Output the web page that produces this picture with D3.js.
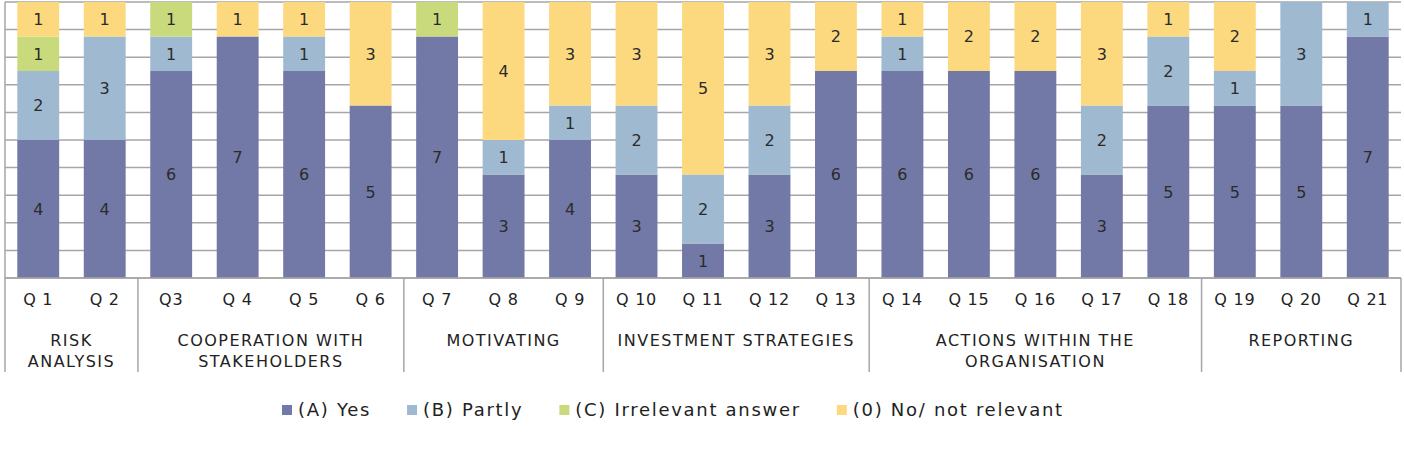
<!DOCTYPE html>
<html>
<head>
<meta charset="utf-8">
<script src="https://cdn.jsdelivr.net/npm/d3@7"></script>
<style>
	body { margin: 0; background: #fff; }
	svg { display: block; font-family: 'DejaVu Sans', sans-serif; }
	.grid line { stroke: #a6a6a6; stroke-width: 1.5; }
	.sep { stroke: #a6a6a6; stroke-width: 1.5; }
	.val { font-size: 16px; fill: #2b2b2b; text-anchor: middle; }
	.cat { font-size: 16px; fill: #222; text-anchor: middle; letter-spacing: 0.75px; }
	.grp { font-size: 16px; fill: #222; text-anchor: middle; letter-spacing: 1.5px; }
	.leg { font-size: 18px; fill: #222; letter-spacing: 1.7px; }
</style>
</head>
<body>
<script>
const categories = ['Q 1', 'Q 2', 'Q3', 'Q 4', 'Q 5', 'Q 6', 'Q 7', 'Q 8', 'Q 9', 'Q 10', 'Q 11',
	'Q 12', 'Q 13', 'Q 14', 'Q 15', 'Q 16', 'Q 17', 'Q 18', 'Q 19', 'Q 20', 'Q 21'];
const groupNames = ['RISK\nANALYSIS', 'COOPERATION WITH\nSTAKEHOLDERS', 'MOTIVATING',
	'INVESTMENT STRATEGIES', 'ACTIONS WITHIN THE\nORGANISATION', 'REPORTING'];
const groupSizes = [2, 4, 3, 4, 5, 3];

const seriesNames = ['(A) Yes', '(B) Partly', '(C) Irrelevant answer', '(0) No/ not relevant'];
const yes        = [4, 4, 6, 7, 6, 5, 7, 3, 4, 3, 1, 3, 6, 6, 6, 6, 3, 5, 5, 5, 7];
const partly     = [2, 3, 1, 0, 1, 0, 0, 1, 1, 2, 2, 2, 0, 1, 0, 0, 2, 2, 1, 3, 1];
const irrelevant = [1, 0, 1, 0, 0, 0, 1, 0, 0, 0, 0, 0, 0, 0, 0, 0, 0, 0, 0, 0, 0];
const no         = [1, 1, 0, 1, 1, 3, 0, 4, 3, 3, 5, 3, 2, 1, 2, 2, 3, 1, 2, 0, 0];
const colors = ['#7279a6', '#9fb9d0', '#c9da7c', '#fcd97f'];

const width = 1404, height = 474;
const plot = { left: 5, right: 1401, top: 2, bottom: 278 };

const rows = categories.map((c, i) => ({
	cat: c, s0: yes[i], s1: partly[i], s2: irrelevant[i], s3: no[i]
}));
const keys = ['s0', 's1', 's2', 's3'];
const stacked = d3.stack().keys(keys).offset(d3.stackOffsetExpand)(rows);

const x = d3.scaleBand()
	.domain(categories)
	.range([plot.left, plot.right])
	.paddingInner(0.37)
	.paddingOuter(0.185);
const y = d3.scaleLinear().domain([0, 1]).range([plot.bottom, plot.top]);
const color = d3.scaleOrdinal().domain(keys).range(colors);

const svg = d3.select('body').append('svg')
	.attr('width', width)
	.attr('height', height);

// gridlines every 10%
svg.append('g').attr('class', 'grid')
	.selectAll('line')
	.data(d3.range(0, 11).map(d => d / 10))
	.join('line')
	.attr('x1', plot.left).attr('x2', plot.right)
	.attr('y1', d => y(d)).attr('y2', d => y(d));

// bars
const layers = svg.append('g').selectAll('g')
	.data(stacked)
	.join('g')
	.attr('fill', d => color(d.key));

layers.selectAll('rect')
	.data(d => d)
	.join('rect')
	.attr('x', d => x(d.data.cat))
	.attr('width', x.bandwidth())
	.attr('y', d => y(d[1]))
	.attr('height', d => y(d[0]) - y(d[1]));

// value labels
stacked.forEach(layer => {
	svg.append('g').selectAll('text')
		.data(layer.filter(d => d.data[layer.key] > 0))
		.join('text')
		.attr('class', 'val')
		.attr('x', d => x(d.data.cat) + x.bandwidth() / 2)
		.attr('y', d => (y(d[0]) + y(d[1])) / 2)
		.attr('dy', '0.36em')
		.text(d => d.data[layer.key]);
});

// axis lines
const sepBottom = 372;
svg.append('line').attr('class', 'sep')
	.attr('x1', plot.left).attr('x2', plot.right)
	.attr('y1', plot.bottom).attr('y2', plot.bottom);
svg.append('line').attr('class', 'sep')
	.attr('x1', plot.left).attr('x2', plot.left)
	.attr('y1', plot.top).attr('y2', sepBottom);

// category labels
svg.append('g').selectAll('text')
	.data(categories)
	.join('text')
	.attr('class', 'cat')
	.attr('x', d => x(d) + x.bandwidth() / 2)
	.attr('y', 305)
	.text(d => d);

// groups
const step = x.step();
let start = 0;
groupNames.forEach((name, gi) => {
	const x0 = plot.left + start * step;
	const x1 = plot.left + (start + groupSizes[gi]) * step;
	svg.append('line').attr('class', 'sep')
		.attr('x1', x1).attr('x2', x1)
		.attr('y1', plot.bottom).attr('y2', sepBottom);
	const t = svg.append('text').attr('class', 'grp')
		.attr('x', (x0 + x1) / 2)
		.attr('y', 346);
	name.split('\n').forEach((line, li) => {
		t.append('tspan')
			.attr('x', (x0 + x1) / 2)
			.attr('dy', li === 0 ? 0 : 21)
			.text(line);
	});
	start += groupSizes[gi];
});

// legend
let lx = 282;
const leg = svg.append('g');
seriesNames.forEach((name, i) => {
	leg.append('rect')
		.attr('x', lx).attr('y', 405)
		.attr('width', 10).attr('height', 10)
		.attr('fill', colors[i]);
	const t = leg.append('text').attr('class', 'leg')
		.attr('x', lx + 16).attr('y', 416)
		.text(name);
	lx += 16 + t.node().getComputedTextLength() + 36;
});
</script>
</body>
</html>
